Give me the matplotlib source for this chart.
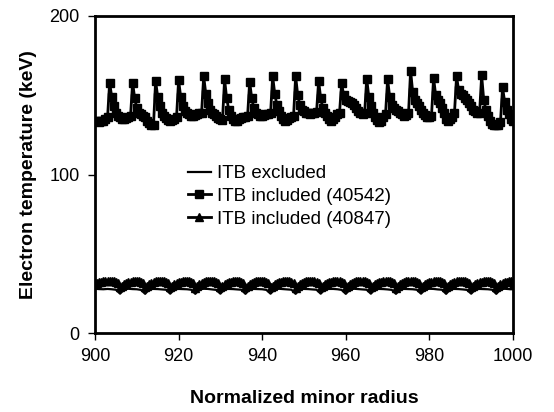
import numpy as np
import matplotlib
matplotlib.use("agg")
import matplotlib.pyplot as plt

plt.rcParams["font.family"] = ["Liberation Sans", "DejaVu Sans"]

# Normalized minor radius: integer grid for the plain line, half-step grid for marked series
radius = list(range(900, 1001))
radius_half = [900 + 0.5 * i for i in range(201)]

# ITB excluded
itb_excluded = [
    27.9, 27.7, 27.6, 27.8, 27.6, 27.3, 24.8, 27.5, 27.9, 27.7,
    27.6, 27.2, 24.7, 27.6, 27.8, 27.7, 27.5, 27.3, 24.8, 27.5,
    27.8, 27.7, 27.6, 27.3, 24.7, 27.5, 27.9, 27.8, 27.5, 27.2,
    24.8, 27.6, 27.8, 27.7, 27.5, 27.3, 24.7, 27.5, 27.8, 27.7,
    27.6, 27.2, 24.8, 27.5, 27.9, 27.7, 27.5, 27.3, 24.7, 27.6,
    27.8, 27.7, 27.5, 27.3, 24.8, 27.5, 27.8, 27.8, 27.6, 27.2,
    24.7, 27.5, 27.9, 27.7, 27.5, 27.3, 24.8, 27.6, 27.8, 27.7,
    27.5, 27.2, 24.7, 27.5, 27.8, 27.7, 27.6, 27.3, 24.8, 27.5,
    27.9, 27.8, 27.5, 27.3, 24.7, 27.6, 27.8, 27.7, 27.5, 27.2,
    24.8, 27.5, 27.8, 27.7, 27.6, 27.3, 24.7, 27.5, 27.9, 27.7,
    27.7,
]

# ITB included (40542), half-step grid
itb_40542 = [
    134, 133.5, 133, 133.5, 134, 135, 136, 158, 149, 143,
    139, 137, 136, 135, 135, 135.5, 136, 137, 158, 148,
    142, 139, 138, 137, 136, 134, 132.5, 131, 131.5, 159,
    149, 143, 139, 137, 135.5, 134.5, 134, 134.5, 135, 136,
    159.5, 149, 143, 140, 139, 138, 137, 137, 137.5, 138,
    138.5, 139, 162, 151, 145, 141, 139, 138, 137, 135.5,
    135, 134.5, 160, 148, 141, 137, 135, 134, 134, 135,
    135.5, 136, 136.5, 137, 158.5, 148, 142, 139, 138, 137,
    137, 137.5, 138, 138, 138.5, 162, 151, 144, 140, 137,
    135, 134, 134.5, 135.5, 136.5, 137, 162, 150, 144, 141,
    140, 139, 138.5, 138, 138.5, 139, 139.5, 159, 148, 142,
    139, 137, 135, 134, 135, 136.5, 138, 139, 157.5, 150,
    147, 146.5, 146, 145, 144, 142, 140, 139, 138, 138.5,
    160.5, 149, 143, 139, 136.5, 134.5, 133, 134, 136, 138,
    160, 149, 144, 142, 141, 140, 139, 138, 137, 137.5,
    138.5, 165.5, 152, 147, 145, 143, 141, 139, 137.5, 136.5,
    136, 137, 161, 150, 147, 145, 142, 139, 135, 134,
    135, 136.5, 139, 162, 153, 151, 150, 148, 147, 145,
    143, 141, 140, 139, 139, 162.5, 147, 141, 137, 134,
    132, 131, 131, 131.5, 133, 155, 146, 141, 138, 135,
    134,
]

# ITB included (40847), half-step grid
itb_40847 = [
    31.5, 31.8, 32.1, 32.3, 32.5, 32.6, 32.7, 32.7, 32.6, 32.5, 32.3, 31.4,
    28.8, 29.8, 30.8, 31.5, 32.0, 32.4, 32.6, 32.7, 32.7, 32.6, 32.4, 31.5,
    28.9, 29.9, 30.8, 31.6, 32.1, 32.5, 32.7, 32.8, 32.7, 32.5, 32.3, 31.4,
    28.8, 29.8, 30.9, 31.5, 32.0, 32.4, 32.6, 32.7, 32.8, 32.6, 32.4, 31.5,
    28.7, 29.8, 30.8, 31.5, 32.1, 32.5, 32.7, 32.7, 32.7, 32.6, 32.3, 31.4,
    28.8, 29.9, 30.8, 31.6, 32.0, 32.4, 32.6, 32.8, 32.7, 32.5, 32.4, 31.5,
    28.9, 29.8, 30.9, 31.5, 32.1, 32.5, 32.7, 32.7, 32.6, 32.6, 32.3, 31.4,
    28.8, 29.8, 30.8, 31.6, 32.0, 32.4, 32.6, 32.7, 32.8, 32.5, 32.4, 31.5,
    28.7, 29.9, 30.8, 31.5, 32.1, 32.5, 32.7, 32.8, 32.7, 32.6, 32.3, 31.4,
    28.8, 29.8, 30.9, 31.6, 32.0, 32.4, 32.6, 32.7, 32.7, 32.5, 32.4, 31.5,
    28.9, 29.8, 30.8, 31.5, 32.1, 32.5, 32.7, 32.7, 32.8, 32.6, 32.3, 31.4,
    28.8, 29.9, 30.8, 31.6, 32.0, 32.4, 32.6, 32.8, 32.7, 32.5, 32.4, 31.5,
    28.7, 29.8, 30.9, 31.5, 32.1, 32.5, 32.7, 32.7, 32.6, 32.6, 32.3, 31.4,
    28.8, 29.8, 30.8, 31.6, 32.0, 32.4, 32.6, 32.7, 32.8, 32.5, 32.4, 31.5,
    28.9, 29.9, 30.8, 31.5, 32.1, 32.5, 32.7, 32.8, 32.7, 32.6, 32.3, 31.4,
    28.8, 29.8, 30.9, 31.6, 32.0, 32.4, 32.6, 32.7, 32.7, 32.5, 32.4, 31.5,
    28.8, 29.8, 30.8, 31.5, 32.0, 32.4, 32.6, 32.5, 30.5,
]

x_ticks = [900, 920, 940, 960, 980, 1000]
y_ticks = [0, 100, 200]

fig = plt.figure(figsize=(5.54, 4.12), dpi=100)
ax = fig.add_axes([95 / 554, 1 - 333 / 412, 418 / 554, 317 / 412])

ax.plot(radius, itb_excluded, color="black", lw=1.6, label="ITB excluded")
ax.plot(radius_half, itb_40542, color="black", lw=2, marker="s", ms=5.5,
        label="ITB included (40542)")
ax.plot(radius_half, itb_40847, color="black", lw=2, marker="^", ms=5.5,
        label="ITB included (40847)")

ax.set_xlim(900, 1000)
ax.set_ylim(0, 200)
ax.set_xticks(x_ticks)
ax.set_yticks(y_ticks)
ax.tick_params(direction="out", length=5, width=1, labelsize=13, colors="black", pad=6)
for s in ax.spines.values():
    s.set_linewidth(2)
    s.set_color("black")

ax.set_xlabel("Normalized minor radius", fontsize=14, fontweight="bold", labelpad=18)
ax.set_ylabel("Electron temperature (keV)", fontsize=14, fontweight="bold", labelpad=9)

ax.legend(loc="upper left", bbox_to_anchor=(188 / 554, 1 - 165 / 412),
          bbox_transform=fig.transFigure, frameon=False, fontsize=13.5,
          handlelength=1.2, handletextpad=0.35, labelspacing=0.3,
          borderpad=0, borderaxespad=0)

fig.savefig("out.png", dpi=100)
